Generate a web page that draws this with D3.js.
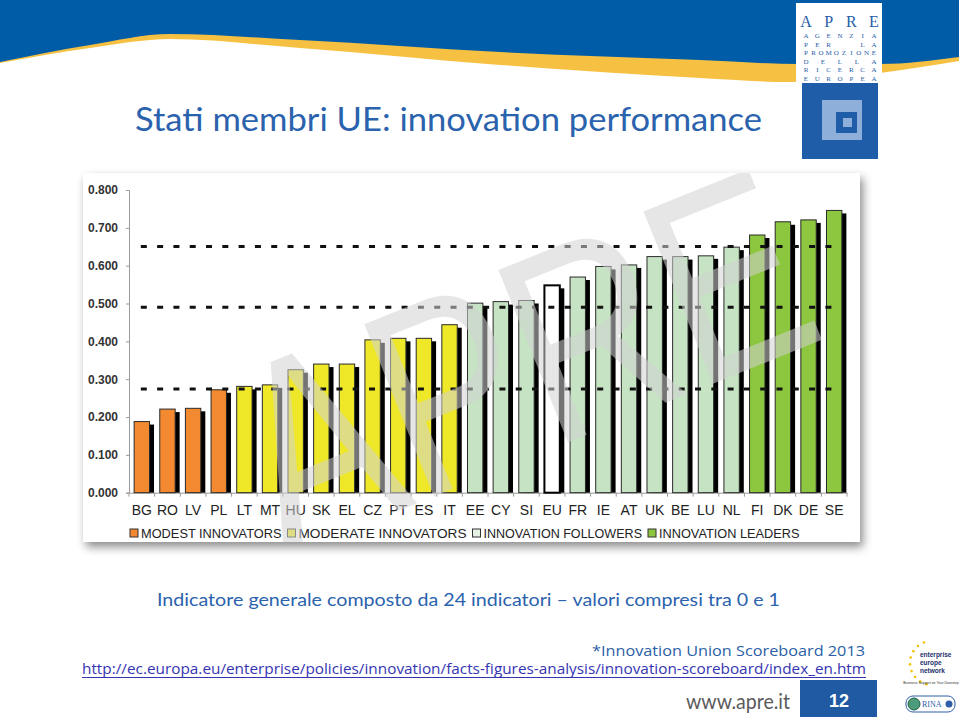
<!DOCTYPE html>
<html><head><meta charset="utf-8">
<script src="https://cdn.jsdelivr.net/npm/d3@7"></script>
<style>body{margin:0;background:#fff}svg{display:block}</style>
</head><body>
<svg id="c" width="959" height="717"></svg>
<script>
// ---- data ----
const categories = ["BG","RO","LV","PL","LT","MT","HU","SK","EL","CZ","PT","ES","IT","EE","CY","SI","EU","FR","IE","AT","UK","BE","LU","NL","FI","DK","DE","SE"];
const values = [0.188,0.221,0.223,0.272,0.281,0.285,0.325,0.340,0.340,0.404,0.408,0.408,0.444,0.501,0.505,0.508,0.548,0.570,0.598,0.602,0.624,0.624,0.626,0.649,0.681,0.716,0.721,0.746];
const groups = ["modest","modest","modest","modest",
  "moderate","moderate","moderate","moderate","moderate","moderate","moderate","moderate","moderate",
  "follower","follower","follower","eu","follower","follower","follower","follower","follower","follower","follower",
  "leader","leader","leader","leader"];
const thresholds = [0.274, 0.490, 0.651];
const yTicks = [0,0.1,0.2,0.3,0.4,0.5,0.6,0.7,0.8];
const legendKeys = ["modest","moderate","follower","leader"];
const legendLabels = ["MODEST INNOVATORS","MODERATE INNOVATORS","INNOVATION FOLLOWERS","INNOVATION LEADERS"];
const colors = {modest:"#F38A31", moderate:"#EEE829", follower:"#C6E4C3", eu:"#FFFFFF", leader:"#8DC63F"};
const legendColors = {modest:"#F38A31", moderate:"#EEE829", follower:"#E6F2E4", leader:"#8DC63F"};

const svg = d3.select("#c");
const defs = svg.append("defs");
const f = defs.append("filter").attr("id","ds").attr("x","-5%").attr("y","-5%").attr("width","115%").attr("height","120%");
f.append("feDropShadow").attr("dx",3).attr("dy",5).attr("stdDeviation",5).attr("flood-color","#000").attr("flood-opacity",0.45);
defs.append("clipPath").attr("id","pc").append("rect").attr("x",83).attr("y",173).attr("width",777).attr("height",369);

// ---- header ----
const blueC = "#005CA7", yellowC = "#F6C142";
const blueBottom = [[0,62],[90,45],[170,34],[300,40],[500,52],[700,60],[800,64],[880,64],[959,57]];
const yellowBottom = [[0,63],[90,48],[170,39],[300,48],[500,65],[700,78],[790,82],[880,73],[959,61]];
const area = d3.area().x(d=>d[0]).y0(0).y1(d=>d[1]).curve(d3.curveMonotoneX);
svg.append("path").attr("d",area(yellowBottom)).attr("fill",yellowC);
svg.append("path").attr("d",area(blueBottom)).attr("fill",blueC);

// ---- logo ----
const logoBlue = "#1F5DA9";
svg.append("rect").attr("x",796).attr("y",3).attr("width",86).attr("height",79).attr("fill","#fff");
svg.append("rect").attr("x",802).attr("y",83).attr("width",76).attr("height",76).attr("fill",logoBlue);
svg.append("rect").attr("x",822).attr("y",100).attr("width",40).attr("height",40).attr("fill","#8EAFD9");
svg.append("rect").attr("x",836).attr("y",112).attr("width",21).attr("height",21).attr("fill",logoBlue);
svg.append("rect").attr("x",843).attr("y",118).attr("width",9).attr("height",9).attr("fill","#8EAFD9");
const logoRows = [["A","P","R","E"],["A","G","E","N","Z","I","A"],["P","E","R","","","L","A"],
  ["P","R","O","M","O","Z","I","O","N","E"],["D","E","L","L","A"],["R","I","C","E","R","C","A"],["E","U","R","O","P","E","A"]];
const rowY = [27,38,46.5,55,63.5,72,80.5];
logoRows.forEach((row,ri)=>{
  const px = d3.scalePoint().domain(d3.range(row.length)).range([806,874]);
  svg.append("g").selectAll("text").data(row).join("text")
    .attr("x",(d,i)=>px(i)).attr("y",rowY[ri]).attr("text-anchor","middle")
    .attr("font-family","Liberation Serif, DejaVu Serif, serif")
    .attr("font-size", ri===0?16:7).attr("fill",logoBlue).text(d=>d);
});

// ---- title ----
svg.append("text").attr("x",135).attr("y",131).attr("font-family","Lato, 'Open Sans', sans-serif")
  .attr("font-size",32).attr("fill","#2B62AD").attr("textLength",627).attr("lengthAdjust","spacingAndGlyphs")
  .text("Stati membri UE: innovation performance");

// ---- chart panel ----
svg.append("rect").attr("x",83).attr("y",173).attr("width",777).attr("height",369).attr("fill","#fff").attr("filter","url(#ds)");

const x = d3.scaleBand().domain(categories).range([129,847]).paddingInner(0.4).paddingOuter(0.2);
const y = d3.scaleLinear().domain([0,0.8]).range([492.7,190]);
const data = categories.map((c,i)=>({c, v:values[i], g:groups[i]}));

// y axis
const ya = svg.append("g").attr("transform","translate(129,0)")
  .call(d3.axisLeft(y).tickValues(yTicks).tickFormat(d3.format(".3f")).tickSize(3).tickPadding(8));
ya.selectAll("path,line").attr("stroke","#9a9a9a");
ya.selectAll("text").attr("font-family","Liberation Sans, Arial, sans-serif").attr("font-size",12).attr("font-weight","bold").attr("fill","#333");

// x axis
const xa = svg.append("g").attr("transform",`translate(0,${y(0)})`)
  .call(d3.axisBottom(x).tickSize(0).tickPadding(12).tickSizeOuter(0));
xa.select(".domain").attr("stroke","#9a9a9a");
xa.selectAll("text").attr("font-family","Liberation Sans, Arial, sans-serif").attr("font-size",14).attr("fill","#222");
const step = x.step();
svg.append("g").selectAll("line").data(d3.range(categories.length+1)).join("line")
  .attr("x1",i=>129 + i*step).attr("x2",i=>129 + i*step)
  .attr("y1",y(0)).attr("y2",y(0)+4).attr("stroke","#9a9a9a");

// shadows
svg.append("g").selectAll("rect").data(data).join("rect")
  .attr("x",d=>x(d.c)+4.5).attr("y",d=>y(d.v)+3).attr("width",x.bandwidth())
  .attr("height",d=>y(0)-y(d.v)-3).attr("fill","#000");
// bars
svg.append("g").selectAll("rect").data(data).join("rect")
  .attr("x",d=>x(d.c)).attr("y",d=>y(d.v)).attr("width",x.bandwidth())
  .attr("height",d=>y(0)-y(d.v)).attr("fill",d=>colors[d.g])
  .attr("stroke",d=>d.g==="eu"?"#000":"#2a2a2a").attr("stroke-width",d=>d.g==="eu"?2:1);

// threshold dashed lines
const x0 = x(categories[0]) + x.bandwidth()/2 - 1, x1 = x(categories[categories.length-1]) + x.bandwidth()/2;
svg.append("g").selectAll("line").data(thresholds).join("line")
  .attr("x1",x0).attr("x2",x1).attr("y1",d=>y(d)).attr("y2",d=>y(d))
  .attr("stroke","#111").attr("stroke-width",3).attr("stroke-dasharray","6,10.3");

// legend
const legendWidths = [140.5, 168, 158.5, 140.5];
const lg = svg.append("g");
let lx = 130;
legendKeys.forEach((k,i)=>{
  lg.append("rect").attr("x",lx).attr("y",529).attr("width",8).attr("height",8)
    .attr("fill",legendColors[k]).attr("stroke","#333").attr("stroke-width",1);
  lg.append("text").attr("x",lx+11).attr("y",537.5).attr("font-family","Liberation Sans, Arial, sans-serif")
    .attr("font-size",13).attr("fill","#222").attr("textLength",legendWidths[i]).attr("lengthAdjust","spacingAndGlyphs")
    .text(legendLabels[i]);
  lx = lx + 11 + legendWidths[i] + 6;
});

// watermark (clipped to the chart panel)
svg.append("g").attr("clip-path","url(#pc)").append("text").attr("transform","translate(522,360) rotate(-22)")
  .attr("text-anchor","middle").attr("dominant-baseline","central")
  .attr("font-family","Liberation Sans, Arial, sans-serif").attr("font-size",270)
  .attr("textLength",590).attr("lengthAdjust","spacingAndGlyphs")
  .attr("fill","#d2d2d2").attr("fill-opacity",0.55).text("APRE");

// subtitle + sources
svg.append("text").attr("x",157).attr("y",606).attr("font-family","Lato, 'Open Sans', sans-serif")
  .attr("font-size",18).attr("fill","#2B62AD").attr("textLength",623).attr("lengthAdjust","spacingAndGlyphs")
  .text("Indicatore generale composto da 24 indicatori \u2013 valori compresi tra 0 e 1");
svg.append("text").attr("x",865).attr("y",656).attr("text-anchor","end").attr("font-family","'Open Sans', sans-serif")
  .attr("font-size",14).attr("fill","#2B5FA5").attr("textLength",273).attr("lengthAdjust","spacingAndGlyphs")
  .text("*Innovation Union Scoreboard 2013");
svg.append("text").attr("x",82).attr("y",674).attr("font-family","'Open Sans', sans-serif")
  .attr("font-size",14).attr("fill","#3434B2").attr("textLength",784).attr("lengthAdjust","spacingAndGlyphs")
  .text("http://ec.europa.eu/enterprise/policies/innovation/facts-figures-analysis/innovation-scoreboard/index_en.htm");
svg.append("line").attr("x1",82).attr("x2",866).attr("y1",677.5).attr("y2",677.5).attr("stroke","#3434B2").attr("stroke-width",1);

// footer
svg.append("text").attr("x",686).attr("y",709).attr("font-family","Lato, 'Open Sans', sans-serif")
  .attr("font-size",21).attr("fill","#5a5a5a").attr("textLength",104).attr("lengthAdjust","spacingAndGlyphs").text("www.apre.it");
svg.append("rect").attr("x",800).attr("y",680).attr("width",77).attr("height",37).attr("fill","#1F5AA3");
svg.append("text").attr("x",839).attr("y",707).attr("text-anchor","middle").attr("font-family","Liberation Sans, Arial, sans-serif")
  .attr("font-size",18).attr("font-weight","bold").attr("fill","#fff").text("12");

// enterprise europe network logo
const stars = d3.range(9).map(i=>{const a = Math.PI*(0.62 + i*0.1); return [932+22*Math.cos(a), 663-22*Math.sin(a)];});
svg.append("g").selectAll("circle").data(stars).join("circle").attr("cx",d=>d[0]).attr("cy",d=>d[1]).attr("r",1.3).attr("fill","#F2C100");
["enterprise","europe","network"].forEach((w,i)=>{
  svg.append("text").attr("x",920).attr("y",657+i*8).attr("font-family","Liberation Sans, Arial, sans-serif")
    .attr("font-size",6.5).attr("font-weight","bold").attr("fill","#1B2F6E").text(w);
});
svg.append("text").attr("x",931).attr("y",684).attr("text-anchor","middle").attr("font-family","Liberation Sans, Arial, sans-serif")
  .attr("font-size",3.5).attr("fill","#333").text("Business Support on Your Doorstep");
svg.append("rect").attr("x",906).attr("y",696).attr("width",49).attr("height",16).attr("rx",7).attr("fill","#fff").attr("stroke","#2E5FA8").attr("stroke-width",1);
svg.append("circle").attr("cx",914).attr("cy",704).attr("r",6).attr("fill","#4C9C7A").attr("stroke","#1e5e47");
svg.append("text").attr("x",922).attr("y",707).attr("font-family","Liberation Serif, serif").attr("font-size",8).attr("fill","#2E5FA8").text("RINA");
svg.append("circle").attr("cx",949).attr("cy",704).attr("r",3.5).attr("fill","#2E5FA8");
</script>
</body></html>
